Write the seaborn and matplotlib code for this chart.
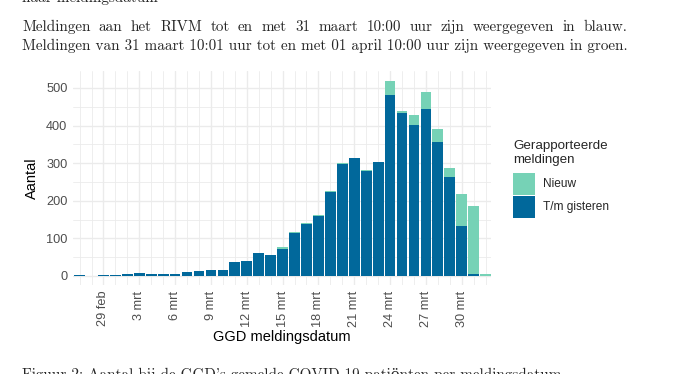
import matplotlib
matplotlib.use("Agg")
import matplotlib.pyplot as plt
import matplotlib.patches as mpatches
import seaborn as sns
import pandas as pd

# ---- data ----
dates = ["27 feb", "28 feb", "29 feb"] + [f"{d} mrt" for d in range(1, 32)] + ["1 apr"]
tm_gisteren = [2, 0, 2, 2, 4, 7, 4, 4, 6, 11, 13, 16, 16, 37, 40, 61, 56, 72,
               113, 138, 160, 223, 298, 314, 280, 303, 481, 434, 402, 444, 356,
               263, 133, 4, 0]
nieuw = [0, 0, 0, 0, 0, 0, 0, 0, 0, 0, 0, 0, 0, 0, 0, 0, 0, 5,
         4, 3, 2, 3, 2, 0, 3, 0, 38, 5, 26, 45, 35,
         24, 85, 182, 4]
tick_labels = ["29 feb", "3 mrt", "6 mrt", "9 mrt", "12 mrt", "15 mrt",
               "18 mrt", "21 mrt", "24 mrt", "27 mrt", "30 mrt"]
legend_title = "Gerapporteerde\nmeldingen"
legend_labels = ["Nieuw", "T/m gisteren"]

BLUE = "#01689B"
GREEN = "#76D2B6"
GRID = "#EBEBEB"
W, H = 688, 374

df = pd.DataFrame({"datum": dates, "blauw": tm_gisteren, "nieuw": nieuw})
df["totaal"] = df["blauw"] + df["nieuw"]

sns.set_theme(style="white")
plt.rcParams["font.family"] = ["Liberation Sans", "DejaVu Sans"]

fig = plt.figure(figsize=(W / 100, H / 100), dpi=100)
ax = fig.add_axes([73 / W, 1 - 285 / H, (491 - 73) / W, (285 - 71) / H])

sns.barplot(data=df, x="datum", y="totaal", order=dates, color=GREEN,
            saturation=1, width=0.9, ax=ax, zorder=3)
sns.barplot(data=df, x="datum", y="blauw", order=dates, color=BLUE,
            saturation=1, width=0.9, ax=ax, zorder=4)
for p in ax.patches:
    p.set_linewidth(0)

ax.set_xlim(-0.55, 34.45)
ax.set_ylim(-24, 545)

# grid
ax.set_yticks([0, 100, 200, 300, 400, 500])
ax.set_yticks([50, 150, 250, 350, 450], minor=True)
tick_pos = [dates.index(t) for t in tick_labels]
ax.set_xticks(tick_pos)
ax.set_xticklabels(tick_labels)
ax.set_xticks([i for i in range(len(dates)) if i not in tick_pos], minor=True)
ax.grid(True, which="major", color=GRID, linewidth=1.0, zorder=0)
ax.grid(True, which="minor", color=GRID, linewidth=0.6, zorder=0)
ax.set_axisbelow(True)
for s in ax.spines.values():
    s.set_visible(False)
ax.tick_params(axis="both", which="both", length=0)
ax.tick_params(axis="x", labelrotation=90, labelsize=9.2, labelcolor="#4D4D4D", pad=4)
ax.tick_params(axis="y", labelsize=9.2, labelcolor="#4D4D4D", pad=4)

ax.set_xlabel("GGD meldingsdatum", fontsize=10.5, color="black", labelpad=2)
ax.set_ylabel("Aantal", fontsize=10.5, color="black", labelpad=5)

# legend (drawn as figure artists, ggplot-like contiguous keys)
fig.text(513 / W, 1 - 140 / H, legend_title, fontsize=9.6, va="top", ha="left",
         linespacing=1.2)
key_colors = [GREEN, BLUE]
for i, (lab, col) in enumerate(zip(legend_labels, key_colors)):
    top = 173 + i * 23
    fig.add_artist(mpatches.Rectangle((513 / W, 1 - (top + 22) / H), 22 / W, 22 / H,
                                      transform=fig.transFigure, facecolor=col,
                                      edgecolor="none"))
    fig.text(543 / W, 1 - (top + 11) / H, lab, fontsize=8.6, va="center", ha="left")

# surrounding document text
serif = ["cmr10", "DejaVu Serif"]
FS = 10.9
fig.text(22 / W, 1 - 2 / H, "naar meldingsdatum", family=serif,
         fontsize=FS, va="baseline", ha="left")
t2 = fig.text(22 / W, 1 - 50 / H,
              "Meldingen van 31 maart 10:01 uur tot en met 01 april 10:00 uur zijn weergegeven in groen.",
              family=serif, fontsize=FS, va="baseline", ha="left")
fig.text(22 / W, 1 - 379 / H,
         "Figuur 2: Aantal bij de GGD's gemelde COVID-19 patiënten per meldingsdatum",
         family=serif, fontsize=FS, va="baseline", ha="left")

# first line of the paragraph is justified to the width of the second line
line1 = "Meldingen aan het RIVM tot en met 31 maart 10:00 uur zijn weergegeven in blauw."
words = line1.split(" ")
renderer = fig.canvas.get_renderer()
bb2 = t2.get_window_extent(renderer)
widths = []
for w in words:
    t = fig.text(0, 0, w, family=serif, fontsize=FS)
    widths.append(t.get_window_extent(renderer).width)
    t.remove()
x0, x1 = bb2.x0, bb2.x1
gap = (x1 - x0 - sum(widths)) / (len(words) - 1)
x = x0
for w, wd in zip(words, widths):
    fig.text(x / W, 1 - 31 / H, w, family=serif, fontsize=FS,
             va="baseline", ha="left")
    x += wd + gap

fig.savefig("out.png", dpi=100)
